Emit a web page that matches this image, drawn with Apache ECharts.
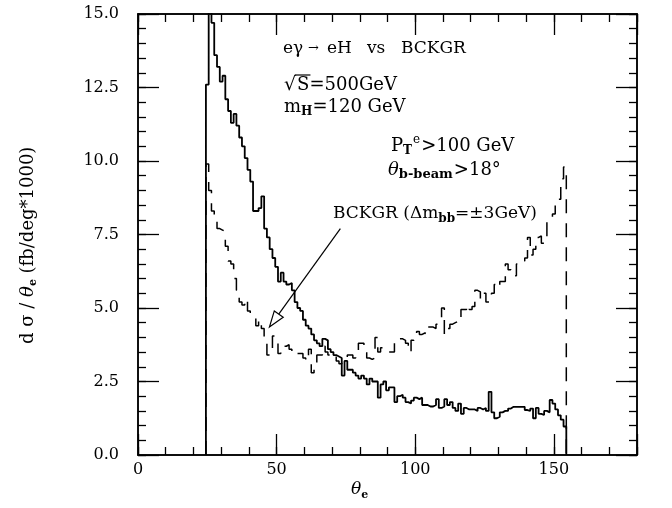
<!DOCTYPE html>
<html><head><meta charset="utf-8">
<script src="https://cdn.jsdelivr.net/npm/echarts@6/dist/echarts.min.js"></script>
<style>html,body{margin:0;padding:0;background:#fff}#c{width:672px;height:508px}</style>
</head><body><div id="c"></div>
<script>
// ---- data ----
const binStart = 24.5;   // left edge of first 1-degree bin
const binWidth = 1;
// signal e gamma -> e H, bins 25..154 (deg)
const signal = [
 12.6,16.5,14.7,13.6,13.2,12.7,12.9,12.1,11.7,11.3,
 11.6,11.2,10.8,10.5,10.1,9.7,9.3,8.3,8.3,8.4,
 8.8,7.7,7.4,7.0,6.7,6.4,5.9,6.2,5.9,5.8,
 5.85,5.6,5.2,5.0,4.9,4.6,4.4,4.3,4.1,3.9,
 3.8,3.7,3.95,3.9,3.6,3.5,3.4,3.35,3.3,2.7,
 3.2,2.9,2.9,2.8,2.7,2.6,2.7,2.6,2.4,2.6,
 2.5,2.5,1.95,2.4,2.5,2.2,2.3,2.3,1.8,2.0,
 2.05,1.95,1.8,1.75,1.85,1.95,1.9,1.95,1.7,1.7,
 1.65,1.65,1.7,1.9,1.6,1.65,1.9,1.7,1.8,1.6,
 1.5,1.75,1.4,1.6,1.55,1.55,1.55,1.5,1.6,1.55,
 1.6,1.5,2.15,1.45,1.25,1.3,1.45,1.5,1.5,1.58,
 1.64,1.64,1.64,1.64,1.64,1.53,1.5,1.58,1.25,1.6,
 1.4,1.36,1.5,1.45,1.87,1.75,1.55,1.35,1.2,0.97
];
// background BCKGR (dm_bb = +-3 GeV), bins 25..154 (deg)
const bckgr = [
 9.9,9.0,8.3,8.0,7.7,7.65,7.6,7.1,6.6,6.5,
 6.0,5.6,5.2,5.1,5.3,4.9,4.8,4.75,4.4,4.6,
 4.3,3.8,3.4,3.4,4.05,4.0,3.45,3.6,3.7,3.75,
 3.6,3.5,3.55,3.45,3.45,3.3,3.2,3.6,2.8,3.1,
 3.4,3.4,3.7,3.5,3.4,3.3,3.35,3.2,3.1,3.25,
 3.3,3.4,3.4,3.3,3.5,3.8,3.8,3.5,3.3,3.25,
 3.3,4.0,3.5,3.65,3.65,3.6,3.5,3.5,3.8,3.95,
 3.95,3.9,3.8,3.5,3.9,4.1,4.2,4.1,4.15,4.1,
 4.35,4.35,4.3,4.45,4.5,5.0,4.1,4.3,4.45,4.5,
 4.55,4.5,4.95,4.95,5.1,4.95,5.05,5.6,5.55,5.3,
 5.5,5.2,5.2,5.5,5.8,5.7,5.9,5.9,6.5,6.3,
 6.2,6.1,6.5,6.5,6.6,6.7,7.4,6.8,7.0,7.4,
 7.45,7.2,7.4,7.95,8.0,8.2,8.5,8.7,9.4,9.8
];
const xTickLabels = ['0','50','100','150'];
const yTickLabels = ['0.0','2.5','5.0','7.5','10.0','12.5','15.0'];

// ---- helpers ----
function stepPoints(vals){
  const pts=[[binStart,0]];
  vals.forEach((v,i)=>{const lo=binStart+i*binWidth; pts.push([lo,v],[lo+binWidth,v]);});
  pts.push([binStart+vals.length*binWidth,0]);
  return pts;
}
const FONT='"DejaVu Serif", serif';
const mctx=document.createElement('canvas').getContext('2d');
function tw(t,size,weight,style){mctx.font=(style||'normal')+' '+(weight||'normal')+' '+size+'px '+FONT;return mctx.measureText(t).width;}
function runs(parts,defSize){
  const out=[];let cx=0;
  parts.forEach(p=>{
    const size=p.size||defSize||17;
    if(p.x!=null) cx=p.x;
    out.push({type:'text',x:cx,y:(p.dy||0),style:{text:p.t,font:(p.style||'normal')+' '+(p.weight||'normal')+' '+size+'px '+FONT,fill:'#000',textVerticalAlign:'middle',textAlign:'left'}});
    cx+=tw(p.t,size,p.weight,p.style)+(p.gap||0);
  });
  return out;
}
const chart=echarts.init(document.getElementById('c'),null,{renderer:'canvas'});
const lab={fontFamily:FONT,fontSize:16,color:'#000'};
const line={color:'#000',width:1.5};
function xAx(pos,interval,len,labels){
  return {type:'value',position:pos,min:0,max:180,interval:interval,
    axisLine:{show:true,onZero:false,lineStyle:line},
    axisTick:{show:true,inside:true,length:len,lineStyle:{color:'#000',width:1.3}},
    axisLabel:labels?{show:true,margin:7,...lab,formatter:v=>{const i=xTickLabels.indexOf(String(v));return i>=0?xTickLabels[i]:'';}}:{show:false},
    splitLine:{show:false}};
}
function yAx(pos,interval,len,labels){
  return {type:'value',position:pos,min:0,max:15,interval:interval,
    axisLine:{show:true,onZero:false,lineStyle:line},
    axisTick:{show:true,inside:true,length:len,lineStyle:{color:'#000',width:1.3}},
    axisLabel:labels?{show:true,margin:19,...lab,formatter:v=>{const s=v.toFixed(1);return yTickLabels.indexOf(s)>=0?s:'';}}:{show:false},
    splitLine:{show:false}};
}
chart.setOption({
  animation:false,
  backgroundColor:'#fff',
  grid:{left:138,right:35,top:14,bottom:53,containLabel:false},
  xAxis:[xAx('bottom',10,8,true),xAx('bottom',50,21,false),xAx('top',10,8,false),xAx('top',50,21,false)],
  yAxis:[yAx('left',0.5,8,true),yAx('left',2.5,21,false),yAx('right',0.5,8,false),yAx('right',2.5,21,false)],
  series:[
    {type:'line',xAxisIndex:0,yAxisIndex:0,data:stepPoints(signal),symbol:'none',clip:true,
     lineStyle:{color:'#000',width:1.8},z:3},
    {type:'line',xAxisIndex:0,yAxisIndex:0,data:stepPoints(bckgr),symbol:'none',clip:true,
     lineStyle:{color:'#000',width:1.5,type:[14,10]},z:3}
  ]
});
// annotations
const g=[];
function addRuns(x,y,parts,size){g.push({type:'group',x:x,y:y,children:runs(parts,size)});}
addRuns(283,49,[{t:'eγ'},{t:'→',size:13,x:25},{t:'eH',x:44},{t:'vs',x:84},{t:'BCKGR',x:118}],17);
addRuns(284,85,[{t:'√',size:19,gap:1},{t:'S=500GeV',size:18}]);
const sqrtW=tw('√',19)+1, sW=tw('S',18);
g.push({type:'line',shape:{x1:284+sqrtW-2,y1:75,x2:284+sqrtW+sW+1,y2:75},style:{stroke:'#000',lineWidth:1.2}});
addRuns(284,107,[{t:'m'},{t:'H',size:12,weight:'bold',dy:5},{t:'=120 GeV'}],18);
addRuns(391,146,[{t:'P'},{t:'T',size:12,weight:'bold',dy:5,gap:1},{t:'e',size:12,dy:-6,gap:1},{t:'>100 GeV'}],18);
addRuns(388,170,[{t:'θ',style:'italic'},{t:'b-beam',size:13,weight:'bold',dy:5,gap:1},{t:'>18°'}],18);
addRuns(333,214,[{t:'BCKGR (Δm'},{t:'bb',size:12,weight:'bold',dy:5},{t:'=±3GeV)'}],17);
// y axis title (rotated)
g.push({type:'group',x:28,y:344,rotation:Math.PI/2,children:runs([
  {t:'d σ / '},{t:'θ',style:'italic'},{t:'e',size:11,weight:'bold',dy:5},{t:' (fb/deg*1000)'}],18)});
// x axis title
addRuns(351,490,[{t:'θ',size:17,style:'italic'},{t:'e',size:11,weight:'bold',dy:5}]);
// arrow
const p0=chart.convertToPixel({gridIndex:0},[73,7.7]);
const p1=chart.convertToPixel({gridIndex:0},[47.4,4.35]);
const dx=p1[0]-p0[0], dy=p1[1]-p0[1], L=Math.hypot(dx,dy), ux=dx/L, uy=dy/L;
const hl=16, hw=5.5;
const bx=p1[0]-ux*hl, by=p1[1]-uy*hl;
g.push({type:'line',shape:{x1:p0[0],y1:p0[1],x2:bx,y2:by},style:{stroke:'#000',lineWidth:1.2}});
g.push({type:'polygon',shape:{points:[[p1[0],p1[1]],[bx-uy*hw,by+ux*hw],[bx+uy*hw,by-ux*hw]]},style:{fill:'#fff',stroke:'#000',lineWidth:1.2},z:10});
chart.setOption({graphic:{elements:g}});
</script></body></html>
